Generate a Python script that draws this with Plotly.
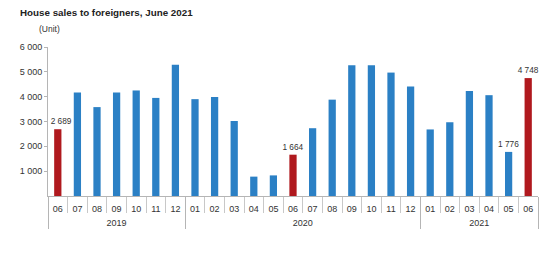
import plotly.graph_objects as go

years = ["2019", "2020", "2021"]
year_counts = [7, 12, 6]
months = ["06", "07", "08", "09", "10", "11", "12",
          "01", "02", "03", "04", "05", "06", "07", "08", "09", "10", "11", "12",
          "01", "02", "03", "04", "05", "06"]
sales = [2689, 4170, 3580, 4170, 4250, 3950, 5290,
         3900, 3990, 3020, 780, 830, 1664, 2730, 3880, 5270, 5270, 4970, 4410,
         2680, 2970, 4230, 4060, 1776, 4748]
labelled = {0: "2 689", 12: "1 664", 23: "1 776", 24: "4 748"}
red_idx = {0, 12, 24}
y_ticks = [1000, 2000, 3000, 4000, 5000, 6000]
y_tick_text = ["1 000", "2 000", "3 000", "4 000", "5 000", "6 000"]

BLUE = "#2B80C5"
RED = "#B0191E"
n = len(sales)
xs = list(range(n))
colors = [RED if i in red_idx else BLUE for i in range(n)]
# the first label is nudged right so it clears the y axis line
label_pad = {0: "\u00a0\u00a0\u00a0"}
texts = [label_pad.get(i, "") + labelled.get(i, "") for i in range(n)]

# year group centres and boundaries
year_centres, year_bounds = [], [-0.5]
start = 0
for c in year_counts:
    year_centres.append(start + (c - 1) / 2)
    start += c
    year_bounds.append(start - 0.5)

fig = go.Figure()
fig.add_trace(go.Bar(
    x=xs, y=sales,
    marker=dict(color=colors, line=dict(width=0)),
    text=texts, textposition="outside", cliponaxis=False, constraintext="none",
    textfont=dict(size=8.3, color="#333333", family="Arial, Liberation Sans"),
    width=0.37, hoverinfo="x+y",
))
# carrier trace so the year axis (x2) is drawn
fig.add_trace(go.Scatter(
    x=year_centres, y=[0] * len(year_centres), xaxis="x2", mode="markers",
    marker=dict(opacity=0), hoverinfo="skip",
))

xr = [-0.5, n - 0.5]
fig.update_layout(
    width=554, height=262,
    margin=dict(l=48, r=16, t=47, b=66),
    paper_bgcolor="white", plot_bgcolor="white",
    font=dict(family="Arial, Liberation Sans", size=9, color="#333333"),
    showlegend=False,
    title=dict(text="<b>House sales to foreigners, June 2021</b>",
               x=20 / 554, xref="container", xanchor="left",
               y=1 - 13 / 262, yref="container", yanchor="middle",
               font=dict(size=9.8, color="#222222")),
    annotations=[dict(text="(Unit)", xref="paper", yref="paper",
                      x=-11 / 490, y=1 + 18 / 149, xanchor="left", yanchor="middle",
                      showarrow=False, font=dict(size=8.5, color="#333333"))],
    xaxis=dict(
        range=xr, tickvals=xs, ticktext=months, ticks="",
        showline=True, linecolor="#B5B5B5", linewidth=1,
        minor=dict(tickvals=[i - 0.5 for i in range(n + 1)], ticks="outside",
                   ticklen=16, tickcolor="#C8C8C8", showgrid=False),
        ticklabelstandoff=4,
        showgrid=False, zeroline=False, tickfont=dict(size=9, color="#333333"),
    ),
    xaxis2=dict(
        overlaying="x", anchor="y", side="bottom", range=xr,
        tickvals=year_centres, ticktext=years, ticks="",
        minor=dict(tickvals=year_bounds, ticks="outside", ticklen=32,
                   tickcolor="#B5B5B5", showgrid=False),
        ticklabelstandoff=20,
        showgrid=False, zeroline=False, showline=False,
        tickfont=dict(size=9, color="#333333"),
    ),
    yaxis=dict(
        range=[0, 6000], tickvals=y_ticks, ticktext=y_tick_text,
        showline=True, linecolor="#B5B5B5", linewidth=1,
        ticks="outside", ticklen=3, tickcolor="#B5B5B5",
        showgrid=False, zeroline=False, tickfont=dict(size=9, color="#333333"),
    ),
)

fig.write_html("out.html")
